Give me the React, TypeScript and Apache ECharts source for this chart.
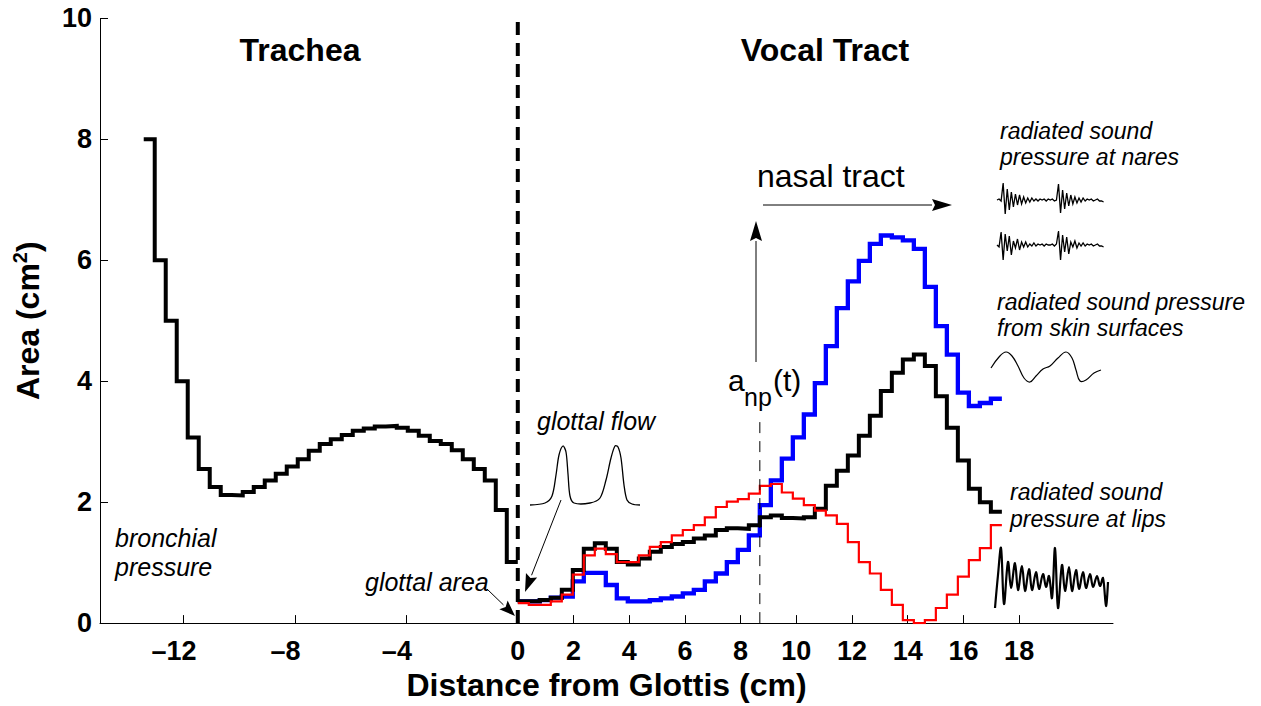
import React, { useEffect, useRef } from "react";
import * as echarts from "echarts";

// Length of one tube section (cm); both tubes share it.
const SECTION_CM = 0.395;

// Trachea cross-sectional areas (cm^2), from the lungs up to the glottis.
const tracheaArea = [
  8.0, 6.0, 5.0, 4.0, 3.07, 2.55, 2.25, 2.12, 2.11, 2.17, 2.25, 2.36, 2.47, 2.59,
  2.71, 2.85, 2.96, 3.04, 3.11, 3.18, 3.22, 3.25, 3.26, 3.23, 3.18, 3.1, 3.01,
  2.96, 2.86, 2.71, 2.55, 2.36, 1.87, 1.01,
];

// Vocal tract area functions (cm^2), glottis to lips.
const tractBlack = [
  0.36, 0.36, 0.38, 0.42, 0.55, 0.88, 1.23, 1.32, 1.23, 1.01, 0.97, 1.07, 1.18,
  1.26, 1.31, 1.34, 1.4, 1.45, 1.54, 1.57, 1.56, 1.62, 1.75, 1.78, 1.74, 1.73,
  1.75, 1.89, 2.27, 2.52, 2.77, 3.1, 3.43, 3.84, 4.14, 4.36, 4.44, 4.25, 3.75,
  3.23, 2.69, 2.22, 2.0, 1.84,
];
const tractBlue = [
  0.36, 0.36, 0.38, 0.42, 0.44, 0.69, 0.83, 0.83, 0.63, 0.41, 0.36, 0.36, 0.38,
  0.41, 0.44, 0.49, 0.55, 0.69, 0.82, 1.01, 1.21, 1.45, 1.95, 2.36, 2.72, 3.07,
  3.45, 3.97, 4.58, 5.21, 5.65, 5.99, 6.27, 6.41, 6.38, 6.33, 6.19, 5.56, 4.91,
  4.44, 3.81, 3.59, 3.64, 3.71,
];
const tractRed = [
  0.33, 0.3, 0.3, 0.36, 0.47, 0.8, 1.12, 1.23, 1.14, 1.01, 1.01, 1.12, 1.26,
  1.34, 1.45, 1.54, 1.62, 1.75, 1.92, 2.01, 2.05, 2.14, 2.27, 2.3, 2.16, 2.06,
  1.95, 1.86, 1.78, 1.64, 1.34, 1.01, 0.82, 0.55, 0.3, 0.05, 0.0, 0.05, 0.25,
  0.47, 0.77, 1.04, 1.24, 1.62,
];

// Section where the nasal tract branches off, and height of its marker.
const NASAL_BRANCH_SECTION = 22;
const NASAL_MARK_TOP = 3.43;

const xTicks = [-12, -8, -4, 0, 2, 4, 6, 8, 10, 12, 14, 16, 18];
const X_MIN = -15;
const X_MAX = 21.37;

// Sketched waveform shapes (pixel offsets, up positive).
const naresWaveA = [
  0, 1, -1, 17, -14, 11, -10, 8, -7, 6, -5, 5, -4, 3, -3, 2, -2, 2, -1, 1, -1, 1,
  0, 1, -1, 1, 0, 1, -1, 0, 16, -13, 10, -9, 7, -6, 5, -4, 3, -3, 2, -2, 2, -1, 1,
  0, 1, -1, 0, 1, -1, -1, -2,
];
const naresWaveB = [
  0, -2, 13, -15, 11, -6, 9, -10, 4, -3, 6, -5, 3, -2, 3, -2, 1, -1, 2, -1, 1, 0,
  1, -1, 1, 0, 0, 1, -1, 1, 14, -15, 10, -7, 8, -9, 3, -2, 4, -3, 2, -1, 2, -1, 1,
  0, 1, -1, 0, 1, -1, -1, -2,
];
// Lip radiation sketch: keypoints [x, y] in pixels.
const lipsWave = [
  [995, 608], [998, 575], [1001, 548], [1004, 604], [1008, 562], [1011, 588],
  [1015, 563], [1018, 590], [1022, 566], [1025, 591], [1029, 569], [1032, 590],
  [1036, 572], [1039, 589], [1043, 574], [1046, 587], [1049, 576], [1052, 598],
  [1055, 548], [1058, 608], [1062, 565], [1065, 591], [1069, 567], [1072, 591],
  [1076, 570], [1079, 589], [1083, 572], [1086, 588], [1090, 574], [1093, 587],
  [1097, 576], [1100, 586], [1103, 578], [1106, 606], [1108, 582],
];
const skinWave = [
  [991, 368], [999, 357], [1006, 352], [1012, 356], [1018, 366], [1024, 378],
  [1030, 382], [1036, 376], [1043, 369], [1050, 366], [1058, 358], [1066, 352],
  [1072, 358], [1076, 370], [1080, 381], [1086, 380], [1094, 373], [1101, 370],
];
const glottalFlowWave = [
  [530, 505], [545, 503], [552, 496], [556, 475], [559, 455], [563, 446],
  [566, 452], [568, 474], [570, 496], [574, 503], [590, 503], [600, 498],
  [606, 480], [611, 458], [615, 446], [618, 447], [621, 458], [624, 485],
  [627, 500], [632, 504], [640, 505],
];

const FONT = "'Liberation Sans', Arial, Helvetica, sans-serif";

function stepLine(values: number[], x0: number): number[][] {
  const pts: number[][] = [];
  values.forEach((v, i) => {
    pts.push([x0 + i * SECTION_CM, v]);
    pts.push([x0 + (i + 1) * SECTION_CM, v]);
  });
  return pts;
}

function wavePoints(offsets: number[], x0: number, y0: number, dx: number) {
  return offsets.map((o, i) => [x0 + i * dx, y0 - o]);
}

function arrow(x1: number, y1: number, x2: number, y2: number, len = 16, half = 6) {
  const dx = x2 - x1;
  const dy = y2 - y1;
  const d = Math.hypot(dx, dy);
  const ux = dx / d;
  const uy = dy / d;
  const bx = x2 - ux * len;
  const by = y2 - uy * len;
  return [
    {
      type: "line",
      shape: { x1, y1, x2: bx, y2: by },
      style: { stroke: "#000", lineWidth: 1 },
      silent: true,
    },
    {
      type: "polygon",
      shape: {
        points: [
          [x2, y2],
          [bx - uy * half, by + ux * half],
          [bx + ux * 3, by + uy * 3],
          [bx + uy * half, by - ux * half],
        ],
      },
      style: { fill: "#000" },
      silent: true,
    },
  ];
}

function label(text: string, x: number, y: number, size: number, opts: any = {}) {
  return {
    type: "text",
    x,
    y,
    silent: true,
    style: {
      text,
      fill: "#000",
      font: `${opts.italic ? "italic " : ""}${opts.bold ? "bold " : ""}${size}px ${FONT}`,
      align: opts.align || "left",
      verticalAlign: "middle",
    },
  };
}

export default function App() {
  const ref = useRef<HTMLDivElement>(null);

  useEffect(() => {
    if (!ref.current) return;
    const chart = echarts.init(ref.current, undefined, { renderer: "svg" });

    const tracheaStart = -tracheaArea.length * SECTION_CM;
    const nasalX = NASAL_BRANCH_SECTION * SECTION_CM;

    const tickFont = { fontFamily: FONT, fontWeight: "bold" as const, fontSize: 27, color: "#000" };

    const option: any = {
      animation: false,
      backgroundColor: "#fff",
      grid: { left: 100, right: 148, top: 18.4, bottom: 79.3, containLabel: false },
      xAxis: {
        type: "value",
        min: X_MIN,
        max: X_MAX,
        name: "Distance from Glottis (cm)",
        nameLocation: "middle",
        nameGap: 45,
        nameTextStyle: { fontFamily: FONT, fontWeight: "bold", fontSize: 32, color: "#000" },
        axisLine: { show: true, onZero: false, lineStyle: { color: "#000", width: 1 } },
        axisTick: { show: true, inside: true, length: 8, customValues: xTicks, lineStyle: { color: "#000" } },
        axisLabel: {
          customValues: xTicks,
          margin: 14,
          formatter: (v: number) => (v < 0 ? `{n|–${Math.abs(v)}}` : `{p|${v}}`),
          rich: {
            n: { ...tickFont, padding: [0, 19, 0, 0] },
            p: { ...tickFont },
          },
        },
        splitLine: { show: false },
      },
      yAxis: {
        type: "value",
        min: 0,
        max: 10,
        interval: 2,
        name: "{t|Area (cm}{s|2}{t|)}",
        nameLocation: "middle",
        nameGap: 54,
        nameRotate: 90,
        nameTextStyle: {
          rich: {
            t: { fontFamily: FONT, fontWeight: "bold", fontSize: 32, color: "#000", lineHeight: 36 },
            s: { fontFamily: FONT, fontWeight: "bold", fontSize: 20, color: "#000", verticalAlign: "top", lineHeight: 36 },
          },
        },
        axisLine: { show: true, onZero: false, lineStyle: { color: "#000", width: 1 } },
        axisTick: { show: true, inside: true, length: 8, lineStyle: { color: "#000" } },
        axisLabel: { ...tickFont, margin: 8 },
        splitLine: { show: false },
      },
      series: [
        {
          name: "Trachea",
          type: "line",
          data: stepLine(tracheaArea, tracheaStart),
          symbol: "none",
          lineStyle: { color: "#000", width: 4, join: "miter" },
          z: 3,
        },
        {
          name: "Tract blue",
          type: "line",
          data: stepLine(tractBlue, 0),
          symbol: "none",
          lineStyle: { color: "#0000ff", width: 4.3, join: "miter" },
          z: 2,
        },
        {
          name: "Tract black",
          type: "line",
          data: stepLine(tractBlack, 0),
          symbol: "none",
          lineStyle: { color: "#000", width: 4, join: "miter" },
          z: 3,
        },
        {
          name: "Tract red",
          type: "line",
          data: stepLine(tractRed, 0),
          symbol: "none",
          lineStyle: { color: "#ff0000", width: 2.2, join: "miter" },
          z: 4,
        },
        {
          name: "Glottis",
          type: "line",
          data: [
            [0, 0],
            [0, 10],
          ],
          symbol: "none",
          lineStyle: { color: "#000", width: 4, type: [13, 8] },
          z: 5,
        },
        {
          name: "Nasal branch",
          type: "line",
          data: [
            [nasalX, 0],
            [nasalX, NASAL_MARK_TOP],
          ],
          symbol: "none",
          lineStyle: { color: "#000", width: 1, type: [11, 8] },
          z: 5,
        },
      ],
      graphic: [
        label("Trachea", 300, 50, 32, { bold: true, align: "center" }),
        label("Vocal Tract", 825, 50, 32, { bold: true, align: "center" }),
        label("nasal tract", 757, 176, 32),
        label("a", 728, 380, 30),
        label("np", 744, 397, 25),
        label("(t)", 773, 380, 30),
        label("glottal flow", 537, 421, 25, { italic: true }),
        label("glottal area", 365, 582, 25, { italic: true }),
        label("bronchial", 115, 538, 25, { italic: true }),
        label("pressure", 115, 567, 25, { italic: true }),
        label("radiated sound", 1000, 131, 23, { italic: true }),
        label("pressure at nares", 1000, 157, 23, { italic: true }),
        label("radiated sound pressure", 997, 302, 23, { italic: true }),
        label("from skin surfaces", 997, 328, 23, { italic: true }),
        label("radiated sound", 1010, 492, 23, { italic: true }),
        label("pressure at lips", 1010, 519, 23, { italic: true }),
        {
          type: "polyline",
          silent: true,
          shape: { points: wavePoints(naresWaveA, 997, 200, 2.05) },
          style: { stroke: "#000", lineWidth: 1.3, fill: null },
        },
        {
          type: "polyline",
          silent: true,
          shape: { points: wavePoints(naresWaveB, 997, 245, 2.05) },
          style: { stroke: "#000", lineWidth: 1.3, fill: null },
        },
        {
          type: "polyline",
          silent: true,
          shape: { points: skinWave, smooth: 0.4 },
          style: { stroke: "#000", lineWidth: 1.2, fill: null },
        },
        {
          type: "polyline",
          silent: true,
          shape: { points: lipsWave, smooth: 0.35 },
          style: { stroke: "#000", lineWidth: 2.2, fill: null },
        },
        {
          type: "polyline",
          silent: true,
          shape: { points: glottalFlowWave, smooth: 0.3 },
          style: { stroke: "#000", lineWidth: 1.3, fill: null },
        },
        ...arrow(561, 500, 525, 592, 18, 6),
        ...arrow(487, 589, 515, 616, 16, 6),
        ...arrow(756, 362, 756, 221, 20, 6),
        ...arrow(763, 205, 952, 205, 20, 6),
      ],
    };

    chart.setOption(option);
    return () => chart.dispose();
  }, []);

  return (
    <div
      ref={ref}
      style={{ position: "fixed", left: 0, top: 0, width: 1261, height: 706, background: "#fff" }}
    />
  );
}
